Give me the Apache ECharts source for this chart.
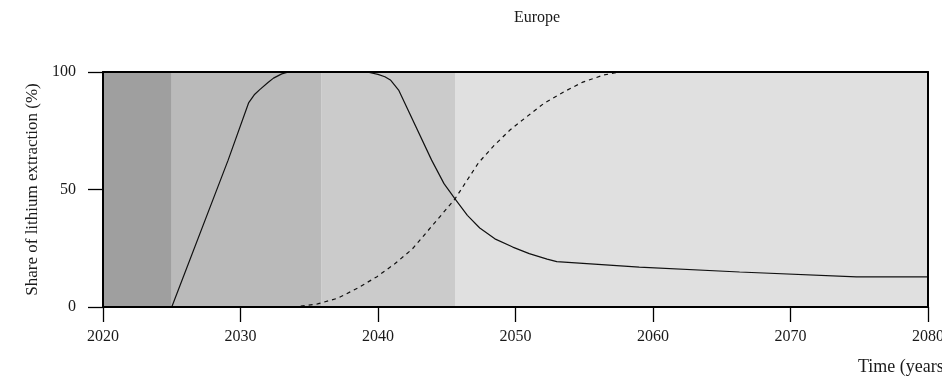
<!DOCTYPE html>
<html>
<head>
<meta charset="utf-8">
<script src="https://cdn.jsdelivr.net/npm/echarts@6/dist/echarts.min.js"></script>
<style>
  html, body { margin: 0; padding: 0; background: #ffffff; }
  #chart { width: 942px; height: 376px; }
</style>
</head>
<body>
<div id="chart"></div>
<script>
// Share of lithium extraction in Europe (%), by year
const solidYears  = [2025, 2029.1, 2030.6, 2031, 2031.4, 2032, 2032.4, 2033, 2033.5, 2039.2, 2040, 2040.5, 2040.9, 2041.5, 2043.9, 2044.8, 2045.6, 2046.5, 2047.4, 2048.5, 2049.8, 2051, 2052.3, 2053, 2059, 2066.3, 2074.8, 2080];
const solidValues = [0, 62.5, 87, 90.3, 92.5, 95.5, 97.4, 99.2, 100, 100, 99, 98, 96.6, 92.3, 62.5, 52.5, 46, 39, 33.6, 29, 25.5, 22.7, 20.4, 19.3, 17, 14.9, 12.8, 12.8];

const dashedYears  = [2033.8, 2035.6, 2037.1, 2038.5, 2039.9, 2041.2, 2042.5, 2043.1, 2045.6, 2047.3, 2048.4, 2049.6, 2050.8, 2052.1, 2053.5, 2054.9, 2056.4, 2057.6, 2080];
const dashedValues = [0, 1.3, 3.8, 8, 12.8, 18.3, 24.7, 28.8, 46, 61.3, 68.5, 75.3, 80.9, 86.8, 91.5, 95.7, 98.7, 100, 100];

// Shaded phases along the time axis
const phaseStarts = [2020, 2025, 2035.9, 2045.6];
const phaseEnds   = [2025, 2035.9, 2045.6, 2080];
const phaseColors = ['#9f9f9f', '#bababa', '#cbcbcb', '#e0e0e0'];

const xTicks = [2020, 2030, 2040, 2050, 2060, 2070, 2080];
const yTicks = [0, 50, 100];

const FONT = '"Liberation Serif", "DejaVu Serif", serif';

const zip = (xs, ys) => xs.map((x, i) => [x, ys[i]]);

// plain frame edge (top / right) drawn as an extra axis without ticks or labels
const frameAxis = (position, extra) => Object.assign({
  type: 'value',
  position: position,
  z: 10,
  axisLine: { show: true, onZero: false, lineStyle: { color: '#000', width: 2 } },
  axisTick: { show: false },
  axisLabel: { show: false },
  splitLine: { show: false }
}, extra);

const chart = echarts.init(document.getElementById('chart'), null, { renderer: 'canvas' });

chart.setOption({
  animation: false,
  backgroundColor: '#ffffff',
  title: {
    text: 'Europe',
    left: 532,
    textAlign: 'center',
    top: 5,
    textStyle: { fontFamily: FONT, fontSize: 16, fontWeight: 'normal', color: '#1a1a1a' }
  },
  grid: {
    left: 103, right: 14, top: 72, bottom: 69,
    outerBoundsMode: 'none',
    containLabel: false,
    show: false
  },
  xAxis: [{
    type: 'value',
    min: 2020, max: 2080, interval: 10,
    z: 10,
    axisLine: { show: true, onZero: false, lineStyle: { color: '#000', width: 2 } },
    axisTick: { show: true, inside: false, length: 15, lineStyle: { color: '#000', width: 1.3 },
      customValues: xTicks },
    axisLabel: { fontFamily: FONT, fontSize: 16, color: '#1a1a1a', margin: 22,
      customValues: xTicks, formatter: v => String(v), hideOverlap: false },
    splitLine: { show: false }
  }, frameAxis('top', { min: 2020, max: 2080 })],
  yAxis: [{
    type: 'value',
    min: 0, max: 100, interval: 50,
    z: 10,
    name: 'Share of lithium extraction (%)',
    nameLocation: 'middle',
    nameGap: 62,
    nameRotate: 90,
    nameTextStyle: { fontFamily: FONT, fontSize: 17, color: '#1a1a1a' },
    axisLine: { show: true, onZero: false, lineStyle: { color: '#000', width: 2 } },
    axisTick: { show: true, inside: false, length: 15, lineStyle: { color: '#000', width: 1.3 },
      customValues: yTicks },
    axisLabel: { fontFamily: FONT, fontSize: 16, color: '#1a1a1a', margin: 27,
      customValues: yTicks },
    splitLine: { show: false }
  }, frameAxis('right', { min: 0, max: 100 })],
  graphic: [{
    type: 'text',
    left: 858,
    top: 358,
    style: { text: 'Time (years)', font: '18px ' + FONT, fill: '#1a1a1a' }
  }],
  series: [
    {
      type: 'line',
      name: 'phases',
      data: [],
      silent: true,
      markArea: {
        silent: true,
        itemStyle: { opacity: 1 },
        data: phaseStarts.map((s, i) => [
          { xAxis: s, yAxis: 0, itemStyle: { color: phaseColors[i] } },
          { xAxis: phaseEnds[i], yAxis: 100 }
        ])
      },
      z: 0
    },
    {
      type: 'line',
      name: 'solid',
      data: zip(solidYears, solidValues),
      showSymbol: false,
      smooth: false,
      lineStyle: { color: '#111', width: 1.2 },
      z: 3
    },
    {
      type: 'line',
      name: 'dashed',
      data: zip(dashedYears, dashedValues),
      showSymbol: false,
      smooth: false,
      lineStyle: { color: '#111', width: 1.2, type: [4, 4] },
      z: 3
    }
  ]
});
</script>
</body>
</html>
